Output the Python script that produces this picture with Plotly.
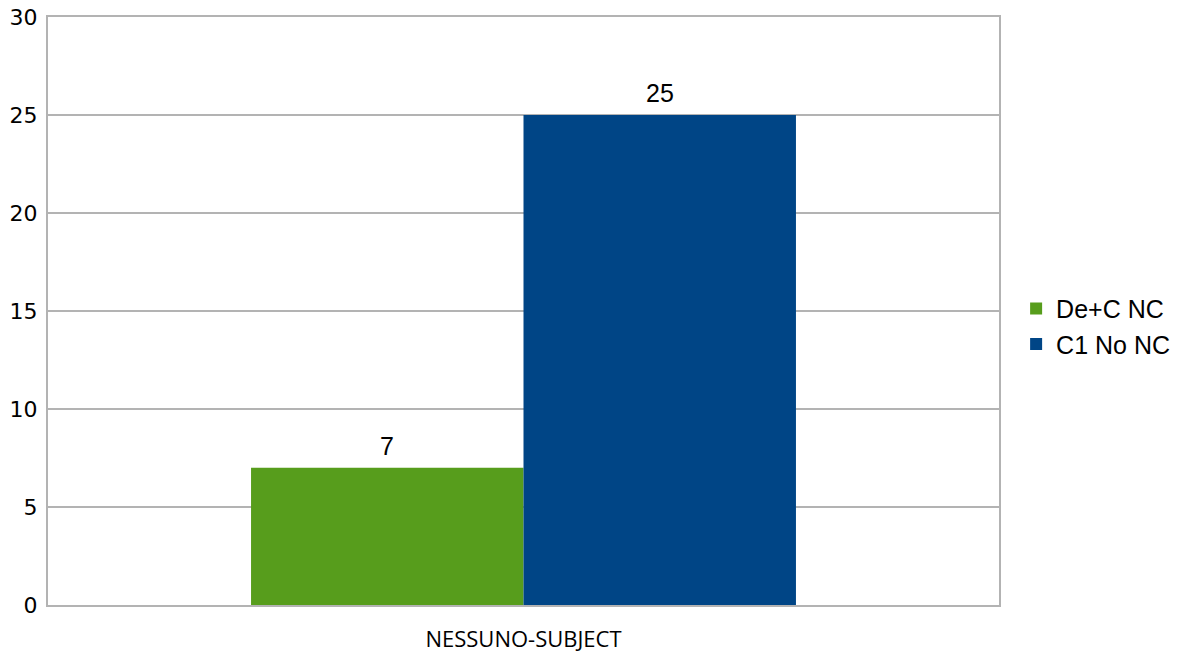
import plotly.graph_objects as go

categories = ["NESSUNO-SUBJECT"]
series_names = ["De+C NC", "C1 No NC"]
series_values = [[7], [25]]
series_colors = ["#579D1C", "#004586"]

y_ticks = [0, 5, 10, 15, 20, 25, 30]

fig = go.Figure()
for name, vals, col in zip(series_names, series_values, series_colors):
    fig.add_trace(go.Bar(
        x=categories, y=vals, name=name,
        marker=dict(color=col, line=dict(width=0)),
        text=[str(v) for v in vals],
        textposition="none",
    ))

# value labels above each bar, placed from the bar values
n = len(series_names)
for i, vals in enumerate(series_values):
    for j, v in enumerate(vals):
        offset = (i - (n - 1) / 2) * 0.2865
        fig.add_annotation(
            x=j + offset, y=v, xref="x", yref="y",
            text=str(v), showarrow=False,
            yanchor="bottom", yshift=6,
            font=dict(family="Liberation Sans", size=25, color="#000000"),
        )

grid = "#b3b3b3"
fig.update_layout(
    width=1179, height=652,
    margin=dict(l=48, r=180, t=17, b=47, autoexpand=False),
    paper_bgcolor="white", plot_bgcolor="white",
    barmode="group", bargap=0.427, bargroupgap=0,
    showlegend=True,
    legend=dict(
        x=1.018, xanchor="left", y=0.474, yanchor="middle",
        bgcolor="rgba(0,0,0,0)",
        font=dict(family="Liberation Sans", size=25, color="#000000"),
        tracegroupgap=0, itemwidth=30,
    ),
    xaxis=dict(
        type="category", range=[-0.5, 0.5], automargin=False,
        showline=True, mirror=True, linecolor=grid, linewidth=2,
        showgrid=False, ticks="",
        tickfont=dict(family="Open Sans", size=22, color="#000000"),
        ticklabelstandoff=14,
    ),
    yaxis=dict(
        range=[0, 30], tickvals=y_ticks, automargin=False,
        showline=True, mirror=True, linecolor=grid, linewidth=2,
        showgrid=True, gridcolor=grid, gridwidth=1.5,
        zeroline=False, ticks="",
        tickfont=dict(family="DejaVu Sans", size=22, color="#000000"),
        ticklabelstandoff=4,
    ),
)

fig.write_html("out.html")
